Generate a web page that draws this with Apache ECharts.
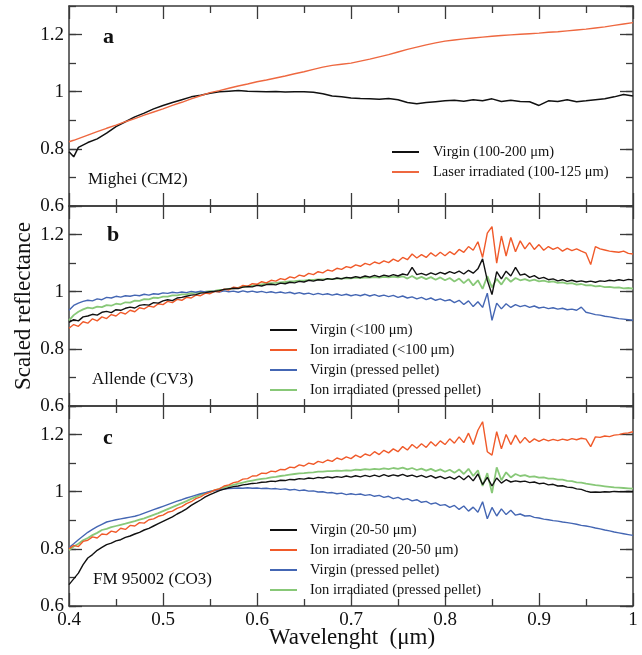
<!DOCTYPE html>
<html><head><meta charset="utf-8">
<script src="https://cdn.jsdelivr.net/npm/echarts@6/dist/echarts.min.js"></script>
<style>html,body{margin:0;padding:0;background:#fff}#c{width:642px;height:655px}</style>
</head><body><div id="c"></div>
<script>
// ---- Panel a (Mighei CM2) ----
const wlA=[0.40,0.405,0.41,0.42,0.43,0.44,0.45,0.46,0.47,0.48,0.49,0.50,0.51,0.52,0.53,0.54,0.55,0.56,0.57,0.58,0.59,0.60,0.61,0.62,0.63,0.64,0.65,0.66,0.67,0.68,0.69,0.70,0.71,0.72,0.73,0.74,0.75,0.76,0.77,0.78,0.79,0.80,0.81,0.82,0.83,0.84,0.85,0.86,0.87,0.88,0.89,0.90,0.91,0.92,0.93,0.94,0.95,0.96,0.97,0.98,0.99,1.00];
const aVirgin=[0.79,0.772,0.805,0.822,0.835,0.855,0.878,0.895,0.912,0.925,0.94,0.952,0.962,0.972,0.982,0.988,0.995,1.0,1.002,1.004,1.002,1.001,1.0,1.001,0.999,1.0,1.0,0.998,0.993,0.985,0.982,0.978,0.976,0.975,0.974,0.976,0.972,0.962,0.958,0.962,0.965,0.968,0.97,0.967,0.972,0.968,0.975,0.966,0.97,0.966,0.965,0.952,0.968,0.966,0.972,0.965,0.968,0.972,0.975,0.982,0.99,0.985];
const aLaser=[0.825,0.83,0.836,0.848,0.86,0.872,0.883,0.895,0.906,0.918,0.929,0.94,0.952,0.963,0.975,0.986,0.997,1.004,1.012,1.02,1.027,1.035,1.041,1.048,1.055,1.063,1.07,1.078,1.086,1.092,1.096,1.1,1.107,1.114,1.122,1.13,1.139,1.148,1.156,1.164,1.171,1.177,1.181,1.185,1.188,1.191,1.194,1.197,1.199,1.201,1.203,1.205,1.208,1.21,1.213,1.216,1.219,1.223,1.227,1.232,1.237,1.242];

// ---- Panels b and c wavelength grid ----
const wl=[0.400,0.405,0.410,0.415,0.420,0.425,0.430,0.435,0.440,0.445,0.450,0.455,0.460,0.465,0.470,0.475,0.480,0.485,0.490,0.495,0.500,0.505,0.510,0.515,0.520,0.525,0.530,0.535,0.540,0.545,0.550,0.555,0.560,0.565,0.570,0.575,0.580,0.585,0.590,0.595,0.600,0.605,0.610,0.615,0.620,0.625,0.630,0.635,0.640,0.645,0.650,0.655,0.660,0.665,0.670,0.675,0.680,0.685,0.690,0.695,0.700,0.705,0.710,0.715,0.720,0.725,0.730,0.735,0.740,0.745,0.750,0.755,0.760,0.765,0.770,0.775,0.780,0.785,0.790,0.795,0.800,0.805,0.810,0.815,0.820,0.825,0.830,0.835,0.840,0.845,0.850,0.855,0.860,0.865,0.870,0.875,0.880,0.885,0.890,0.895,0.900,0.905,0.910,0.915,0.920,0.925,0.930,0.935,0.940,0.945,0.950,0.955,0.960,0.965,0.970,0.975,0.980,0.985,0.990,0.995,1.000];

// ---- Panel b (Allende CV3) ----
const bVirgin=[0.893,0.902,0.898,0.912,0.915,0.921,0.918,0.928,0.931,0.927,0.937,0.935,0.942,0.946,0.943,0.952,0.955,0.953,0.962,0.96,0.968,0.972,0.969,0.978,0.98,0.984,0.988,0.99,0.995,0.997,1.0,1.001,1.004,1.008,1.01,1.012,1.011,1.016,1.018,1.017,1.022,1.02,1.025,1.026,1.024,1.03,1.028,1.033,1.031,1.036,1.034,1.04,1.037,1.042,1.04,1.046,1.043,1.048,1.045,1.05,1.048,1.053,1.049,1.055,1.051,1.057,1.052,1.058,1.054,1.06,1.055,1.062,1.058,1.085,1.06,1.064,1.058,1.066,1.06,1.068,1.062,1.07,1.064,1.072,1.062,1.075,1.065,1.08,1.115,1.04,0.99,1.07,1.045,1.072,1.055,1.085,1.058,1.062,1.05,1.056,1.046,1.05,1.042,1.045,1.038,1.042,1.036,1.04,1.035,1.038,1.034,1.037,1.033,1.038,1.036,1.04,1.038,1.042,1.039,1.043,1.041];
const bIon=[0.872,0.885,0.879,0.895,0.89,0.905,0.898,0.912,0.906,0.92,0.915,0.928,0.922,0.935,0.93,0.944,0.94,0.95,0.946,0.958,0.955,0.966,0.962,0.973,0.97,0.98,0.978,0.988,0.986,0.995,0.993,1.001,1.0,1.009,1.006,1.016,1.013,1.022,1.019,1.028,1.026,1.035,1.031,1.04,1.037,1.046,1.042,1.052,1.048,1.058,1.054,1.064,1.06,1.07,1.066,1.076,1.072,1.082,1.078,1.088,1.084,1.094,1.089,1.099,1.094,1.104,1.098,1.108,1.102,1.114,1.106,1.12,1.112,1.132,1.118,1.13,1.12,1.136,1.124,1.138,1.126,1.14,1.13,1.148,1.138,1.158,1.145,1.175,1.12,1.205,1.228,1.1,1.195,1.125,1.19,1.14,1.178,1.15,1.172,1.148,1.165,1.145,1.158,1.148,1.155,1.142,1.152,1.144,1.15,1.142,1.135,1.095,1.158,1.15,1.146,1.142,1.14,1.138,1.142,1.134,1.132];
const bVirginPellet=[0.935,0.952,0.96,0.966,0.97,0.968,0.975,0.972,0.98,0.978,0.984,0.981,0.986,0.984,0.988,0.986,0.991,0.988,0.993,0.991,0.996,0.994,0.998,0.996,0.999,0.997,1.001,0.998,1.002,0.999,1.0,1.002,0.999,1.003,1.0,1.002,0.998,1.003,0.999,1.002,0.998,1.001,0.997,1.0,0.996,0.999,0.995,0.998,0.993,0.997,0.992,0.995,0.99,0.994,0.99,0.993,0.988,0.992,0.987,0.991,0.986,0.99,0.986,0.991,0.985,0.99,0.984,0.988,0.983,0.987,0.98,0.985,0.978,0.982,0.975,0.98,0.972,0.978,0.97,0.975,0.968,0.972,0.962,0.97,0.955,0.968,0.948,0.965,0.945,0.995,0.9,0.96,0.94,0.958,0.945,0.955,0.948,0.952,0.945,0.95,0.943,0.946,0.941,0.944,0.939,0.942,0.937,0.939,0.935,0.946,0.928,0.924,0.92,0.918,0.914,0.912,0.909,0.906,0.904,0.902,0.9];
const bIonPellet=[0.9,0.918,0.93,0.938,0.944,0.942,0.948,0.946,0.953,0.951,0.958,0.956,0.963,0.962,0.969,0.968,0.974,0.973,0.979,0.978,0.983,0.983,0.987,0.987,0.991,0.991,0.995,0.996,0.999,1.0,1.002,1.003,1.006,1.007,1.01,1.012,1.014,1.017,1.019,1.021,1.023,1.026,1.028,1.03,1.031,1.033,1.034,1.036,1.037,1.039,1.039,1.041,1.041,1.043,1.043,1.045,1.044,1.046,1.046,1.048,1.047,1.049,1.048,1.05,1.049,1.051,1.049,1.052,1.05,1.053,1.05,1.054,1.046,1.055,1.045,1.052,1.044,1.051,1.042,1.05,1.04,1.048,1.036,1.046,1.03,1.044,1.022,1.04,1.01,1.055,1.015,1.045,1.025,1.05,1.035,1.048,1.04,1.044,1.038,1.042,1.036,1.039,1.034,1.036,1.031,1.033,1.028,1.03,1.025,1.027,1.022,1.023,1.019,1.02,1.016,1.017,1.014,1.015,1.012,1.013,1.011];

// ---- Panel c (FM 95002 CO3) ----
const cVirgin=[0.675,0.695,0.715,0.745,0.768,0.78,0.795,0.805,0.815,0.82,0.828,0.832,0.84,0.845,0.852,0.858,0.866,0.872,0.88,0.888,0.896,0.904,0.912,0.922,0.93,0.94,0.952,0.962,0.971,0.982,0.99,0.997,1.004,1.009,1.014,1.018,1.02,1.024,1.026,1.029,1.03,1.033,1.034,1.037,1.036,1.04,1.039,1.043,1.042,1.046,1.044,1.048,1.046,1.05,1.048,1.052,1.049,1.053,1.05,1.055,1.051,1.056,1.052,1.057,1.053,1.058,1.053,1.06,1.054,1.059,1.055,1.061,1.054,1.058,1.052,1.057,1.05,1.056,1.048,1.054,1.046,1.052,1.044,1.055,1.042,1.056,1.038,1.062,1.025,1.05,1.02,1.048,1.03,1.042,1.034,1.038,1.035,1.037,1.032,1.034,1.028,1.03,1.024,1.026,1.02,1.021,1.016,1.015,1.01,1.008,1.002,0.998,0.999,0.998,1.0,0.999,1.001,1.0,1.0,1.001,1.0];
const cIon=[0.8,0.812,0.808,0.826,0.83,0.842,0.838,0.852,0.85,0.862,0.858,0.872,0.868,0.882,0.88,0.892,0.89,0.902,0.905,0.914,0.918,0.928,0.932,0.942,0.948,0.958,0.965,0.976,0.982,0.992,0.998,1.006,1.01,1.02,1.024,1.032,1.035,1.044,1.046,1.055,1.056,1.065,1.064,1.072,1.07,1.078,1.077,1.086,1.084,1.094,1.09,1.1,1.096,1.106,1.102,1.111,1.106,1.118,1.112,1.122,1.116,1.128,1.12,1.132,1.126,1.14,1.13,1.145,1.136,1.15,1.14,1.158,1.146,1.165,1.152,1.168,1.155,1.175,1.16,1.178,1.165,1.185,1.17,1.192,1.172,1.205,1.165,1.215,1.245,1.14,1.128,1.21,1.15,1.2,1.165,1.198,1.17,1.19,1.172,1.185,1.176,1.184,1.178,1.183,1.179,1.184,1.18,1.186,1.182,1.187,1.184,1.158,1.192,1.19,1.195,1.193,1.198,1.2,1.204,1.206,1.21];
const cVirginPellet=[0.805,0.818,0.832,0.845,0.858,0.868,0.878,0.886,0.894,0.898,0.902,0.905,0.908,0.911,0.914,0.919,0.925,0.931,0.937,0.943,0.949,0.955,0.961,0.967,0.972,0.978,0.983,0.988,0.993,0.997,1.001,1.004,1.007,1.009,1.011,1.012,1.013,1.012,1.014,1.012,1.013,1.011,1.012,1.01,1.011,1.008,1.01,1.006,1.008,1.004,1.006,1.002,1.003,0.999,1.0,0.996,0.997,0.993,0.995,0.99,0.993,0.99,0.992,0.987,0.99,0.984,0.987,0.98,0.984,0.976,0.98,0.972,0.976,0.968,0.972,0.963,0.966,0.957,0.961,0.952,0.955,0.945,0.952,0.938,0.95,0.932,0.946,0.928,0.965,0.905,0.945,0.915,0.94,0.92,0.935,0.918,0.922,0.915,0.916,0.91,0.908,0.904,0.902,0.899,0.897,0.894,0.892,0.889,0.886,0.882,0.88,0.877,0.873,0.87,0.866,0.863,0.859,0.856,0.853,0.85,0.847];
const cIonPellet=[0.795,0.808,0.818,0.83,0.838,0.848,0.856,0.866,0.87,0.876,0.88,0.884,0.888,0.893,0.897,0.902,0.907,0.913,0.919,0.925,0.932,0.939,0.946,0.953,0.96,0.967,0.975,0.982,0.989,0.995,1.0,1.005,1.01,1.015,1.02,1.024,1.028,1.032,1.036,1.039,1.042,1.045,1.047,1.05,1.052,1.055,1.057,1.06,1.062,1.064,1.065,1.067,1.068,1.07,1.07,1.072,1.072,1.074,1.073,1.075,1.074,1.077,1.076,1.079,1.077,1.08,1.078,1.082,1.079,1.083,1.08,1.084,1.078,1.083,1.076,1.081,1.074,1.08,1.072,1.078,1.07,1.077,1.066,1.078,1.062,1.08,1.055,1.075,1.02,1.065,0.995,1.085,1.04,1.068,1.05,1.062,1.055,1.058,1.052,1.054,1.049,1.05,1.046,1.046,1.042,1.042,1.038,1.037,1.033,1.032,1.028,1.026,1.023,1.021,1.019,1.017,1.015,1.014,1.013,1.012,1.011];

// ---- Labels ----
const namesA=['Virgin (100-200 μm)','Laser irradiated (100-125 μm)'];
const namesB=['Virgin (<100 μm)','Ion irradiated (<100 μm)','Virgin (pressed pellet)','Ion irradiated (pressed pellet)'];
const namesC=['Virgin (20-50 μm)','Ion irradiated (20-50 μm)','Virgin (pressed pellet)','Ion irradiated (pressed pellet)'];
const panelLetters=['a','b','c'];
const panelSamples=['Mighei (CM2)','Allende (CV3)','FM 95002 (CO3)'];
const xTitle='Wavelenght  (μm)';
const yTitle='Scaled reflectance';

const FONT='"Liberation Serif","DejaVu Serif",serif';
const AX='#3a3a3a';
const BLACK='#111111', ORANGE='#f05a2a', BLUE='#4466b3', GREEN='#88c878', ORANGE_A='#ee6840';
const tops=[6,206,406];

const grids=tops.map(t=>({left:69,width:564,top:t,height:200,show:false}));
const xAxes=[], yAxes=[];
tops.forEach((t,g)=>{
  ['bottom','top'].forEach(pos=>{
    xAxes.push({gridIndex:g,type:'value',min:0.4,max:1,interval:0.1,position:pos,
      axisLine:{show:true,onZero:false,lineStyle:{color:AX,width:1.5}},
      axisTick:{show:true,inside:true,length:13,lineStyle:{color:AX,width:1.3}},
      minorTick:{show:true,splitNumber:2,length:7,lineStyle:{color:AX,width:1.3}},
      splitLine:{show:false},
      axisLabel:{show:(g===2&&pos==='bottom'),margin:5,color:'#111',fontFamily:FONT,fontSize:19}
    });
  });
  ['left','right'].forEach(pos=>{
    yAxes.push({gridIndex:g,type:'value',min:0.6,max:1.3,interval:0.2,position:pos,
      axisLine:{show:true,onZero:false,lineStyle:{color:AX,width:1.5}},
      axisTick:{show:true,inside:true,length:13,lineStyle:{color:AX,width:1.3}},
      splitLine:{show:false},
      axisLabel:{show:pos==='left',showMaxLabel:false,margin:5,color:'#111',fontFamily:FONT,fontSize:19}
    });
    yAxes.push({gridIndex:g,type:'value',min:0.6,max:1.3,interval:0.1,position:pos,
      axisLine:{show:false},
      axisTick:{show:true,inside:true,length:7,lineStyle:{color:AX,width:1.3}},
      splitLine:{show:false},axisLabel:{show:false}
    });
  });
});

function mk(name,xs,ys,g,color,w){
  return {name:name,type:'line',xAxisIndex:2*g,yAxisIndex:4*g,symbol:'none',showSymbol:false,
    lineStyle:{color:color,width:w},itemStyle:{color:color},
    data:xs.map((x,i)=>[x,ys[i]]),animation:false,z:3};
}
const series=[
  mk(namesA[0],wlA,aVirgin,0,BLACK,1.5),
  mk(namesA[1],wlA,aLaser,0,ORANGE_A,1.4),
  mk(namesB[3],wl,bIonPellet,1,GREEN,1.8),
  mk(namesB[2],wl,bVirginPellet,1,BLUE,1.4),
  mk(namesB[1],wl,bIon,1,ORANGE,1.4),
  mk(namesB[0],wl,bVirgin,1,BLACK,1.4),
  mk(namesC[3],wl,cIonPellet,2,GREEN,1.8),
  mk(namesC[2],wl,cVirginPellet,2,BLUE,1.4),
  mk(namesC[1],wl,cIon,2,ORANGE,1.4),
  mk(namesC[0],wl,cVirgin,2,BLACK,1.4)
];

function leg(names,left,top,pad){
  return {data:names,orient:'vertical',left:left,top:top,icon:'rect',itemWidth:27,itemHeight:2,itemGap:5,
    selectedMode:false,textStyle:{fontFamily:FONT,fontSize:14.5,color:'#111',padding:[0,0,0,pad]}};
}

const txt=(s,x,y,size,bold)=>({type:'text',x:x,y:y,silent:true,z:10,
  style:{text:s,fill:'#111',font:(bold?'bold ':'')+size+'px '+FONT,align:'left',verticalAlign:'middle'}});

const graphic=[
  txt(panelLetters[0],103,37,22,true),
  txt(panelLetters[1],107,235,22,true),
  txt(panelLetters[2],103,438,22,true),
  txt(panelSamples[0],88,180,17,false),
  txt(panelSamples[1],92,380,17,false),
  txt(panelSamples[2],93,580,17,false),
  {type:'text',x:352,y:638,silent:true,style:{text:xTitle,fill:'#111',font:'23px '+FONT,align:'center',verticalAlign:'middle'}},
  {type:'text',x:24,y:306,rotation:Math.PI/2,silent:true,style:{text:yTitle,fill:'#111',font:'23px '+FONT,align:'center',verticalAlign:'middle'}}
];

const chart=echarts.init(document.getElementById('c'),null,{renderer:'canvas'});
chart.setOption({
  animation:false,backgroundColor:'#fff',
  grid:grids,xAxis:xAxes,yAxis:yAxes,series:series,
  legend:[leg(namesA,387,139.5,9),leg(namesB,265,317.5,8),leg(namesC,265,517.5,8)],
  graphic:graphic
});
</script></body></html>
